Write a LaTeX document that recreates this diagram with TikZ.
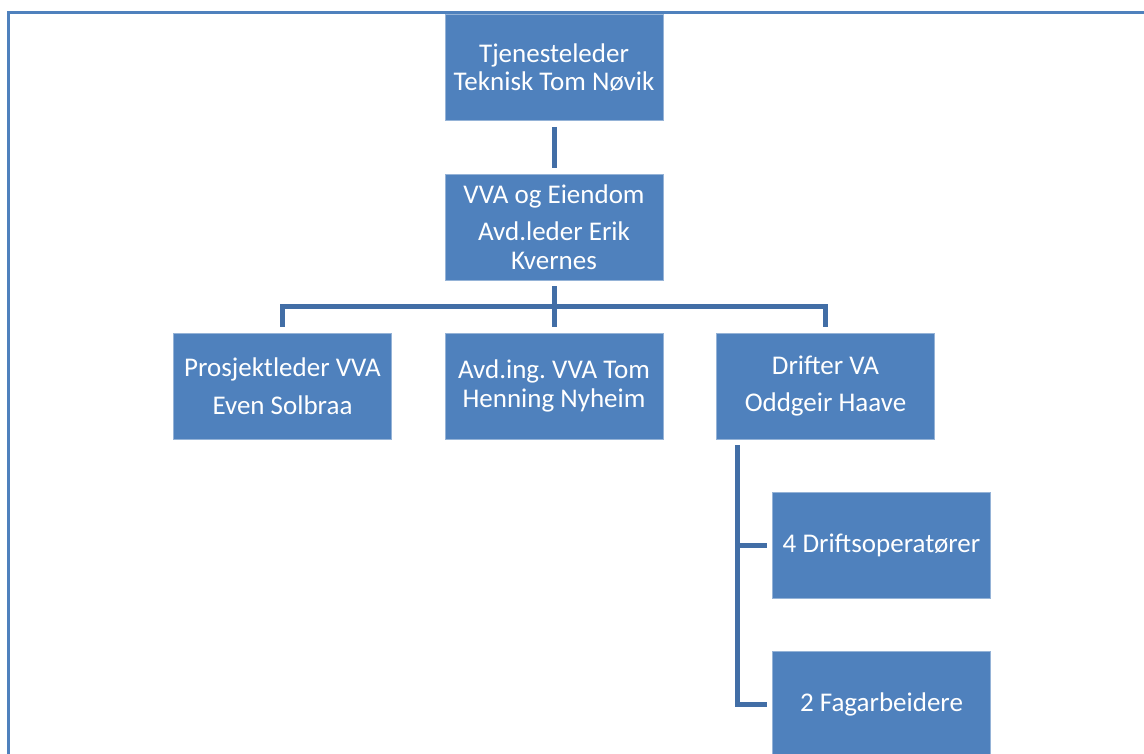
\documentclass[tikz,border=0pt]{standalone}
\usepackage{fontspec}
\setmainfont{Carlito}
\frenchspacing
\definecolor{boxblue}{RGB}{79,129,189}
\definecolor{linkblue}{RGB}{66,110,166}
\begin{document}
\begin{tikzpicture}[x=1pt,y=1pt,
  orgbox/.style={rectangle,fill=boxblue,draw=boxblue!60!white,line width=0.6pt,
    minimum width=218pt,minimum height=106pt,inner sep=0pt,
    text=white,align=center,font=\fontsize{27}{28.5}\selectfont},
  conn/.style={draw=linkblue,line width=5pt},
  frameline/.style={draw=boxblue,line width=3pt}]
\useasboundingbox (0,0) rectangle (1144,-753);
\clip (0,0) rectangle (1144,-753);
% frame
\coordinate (ftl) at (8,-12);
\coordinate (ftr) at (1150,-12);
\coordinate (fbl) at (8,-760);
\draw[frameline] (ftr) -- (ftl) -- (fbl);
% nodes
\node[orgbox] (top) at (554,-67.5) {Tjenesteleder\\Teknisk Tom Nøvik};
\node[orgbox] (b2) at (554,-227) {VVA og Eiendom\\[9pt]Avd.leder Erik\\Kvernes};
\node[orgbox] (c1) at (282.5,-386) {Prosjektleder VVA\\[9pt]Even Solbraa};
\node[orgbox] (c2) at (554,-386) {Avd.ing. VVA Tom\\Henning Nyheim};
\node[orgbox] (c3) at (825.5,-386) {Drifter VA\\[9pt]Oddgeir Haave};
\node[orgbox] (s1) at (881.5,-545) {4 Driftsoperatører};
\node[orgbox] (s2) at (881.5,-704.5) {2 Fagarbeidere};
% connectors
\draw[conn] ([yshift=-6pt]top.south) -- ([yshift=6pt]b2.north);
\draw[conn] ([yshift=-6pt]b2.south) -- ([yshift=6pt]c2.north);
\draw[conn] ([yshift=6pt]c1.north) -- ++(0,20) -| ([yshift=6pt]c3.north);
\draw[conn] ([xshift=21pt,yshift=-6pt]c3.south west) |- ([xshift=-5pt]s1.west);
\draw[conn] ([xshift=21pt,yshift=-6pt]c3.south west) |- ([xshift=-5pt]s2.west);
\end{tikzpicture}
\end{document}
